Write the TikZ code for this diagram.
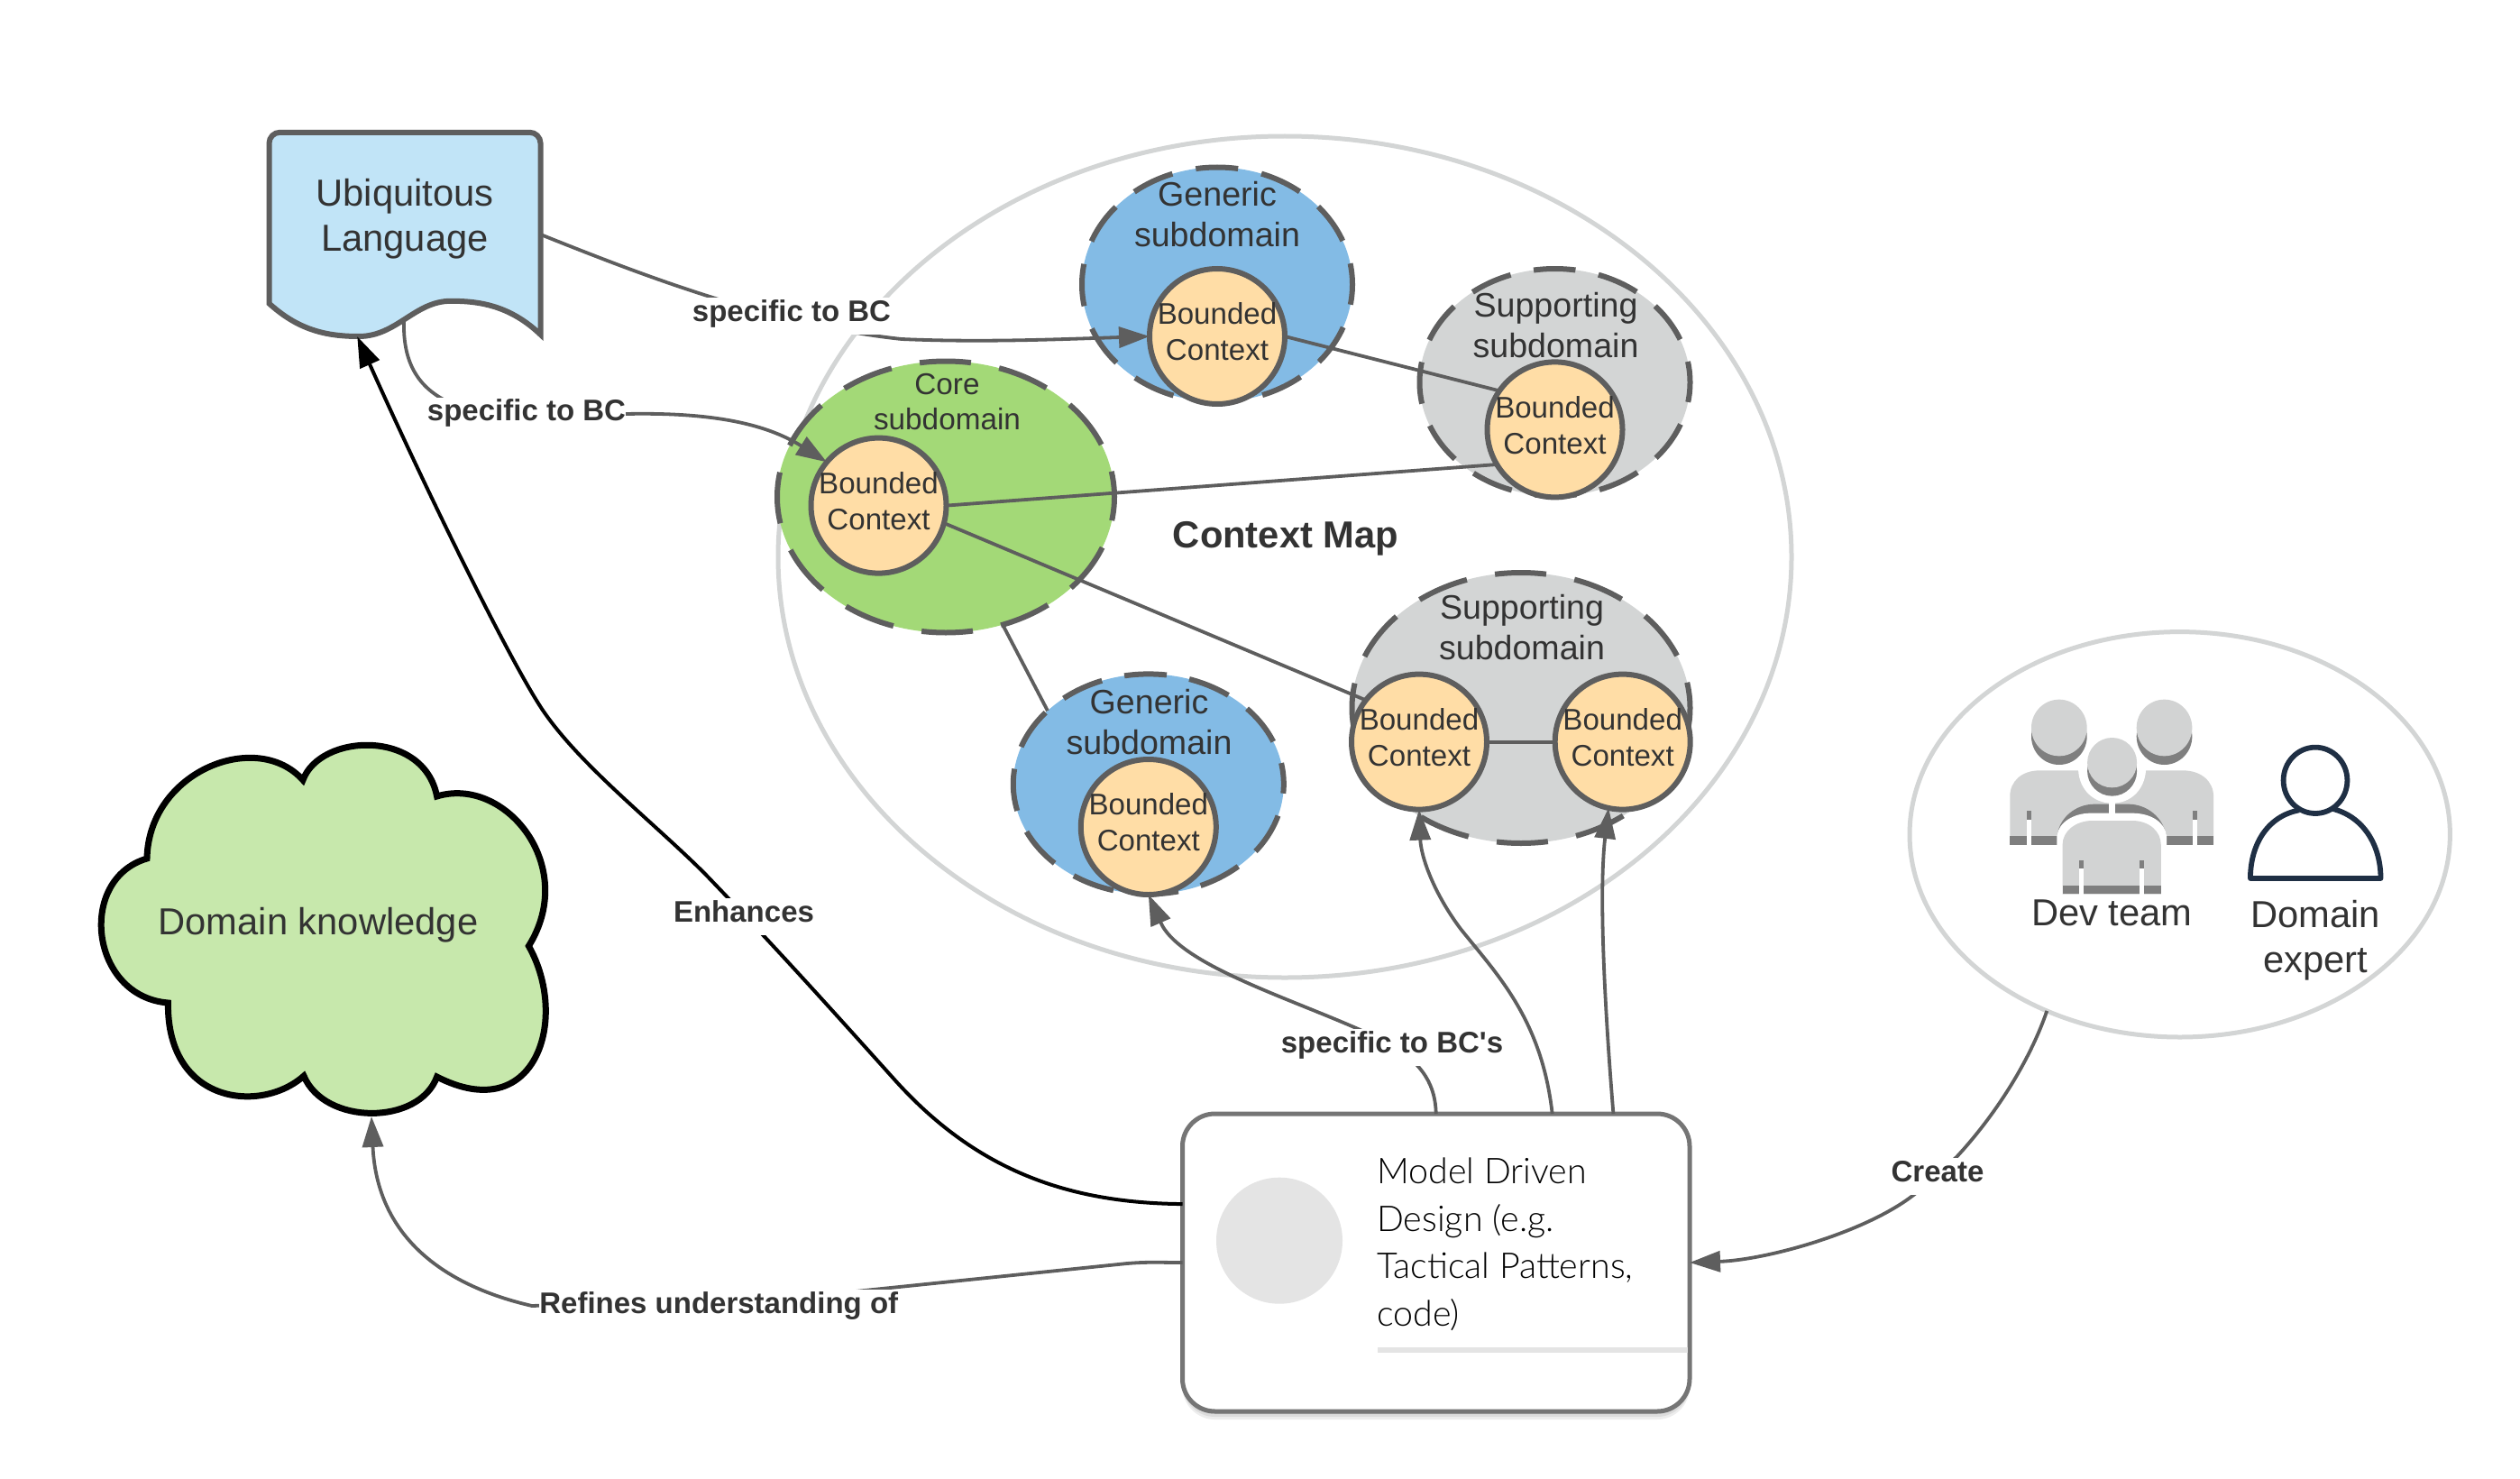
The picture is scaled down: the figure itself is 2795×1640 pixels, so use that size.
\documentclass[tikz,border=0pt]{standalone}
\usepackage{fontspec}
\setmainfont{Liberation Sans}
\newfontfamily\rawfont{Liberation Sans}
\newfontfamily\modelfont{Lato Light}
\usetikzlibrary{arrows.meta,shapes.geometric}
\definecolor{ink}{HTML}{333333}
\definecolor{stroke}{HTML}{5E5E5E}
\definecolor{mapline}{HTML}{D3D5D5}
\definecolor{peach}{HTML}{FFDDA6}
\definecolor{bluef}{HTML}{83BBE5}
\definecolor{coref}{HTML}{A3D977}
\definecolor{greyf}{HTML}{D3D5D5}
\definecolor{docf}{HTML}{C1E4F7}
\definecolor{cloudf}{HTML}{C7E8AC}
\definecolor{boxline}{HTML}{757575}
\definecolor{iconl}{HTML}{D2D3D3}
\definecolor{icond}{HTML}{7F7F7F}
\definecolor{navy}{HTML}{1F2F44}
\tikzset{
  sub/.style={shape=ellipse,draw=stroke,line width=6pt,inner sep=0pt,outer sep=0pt},
  subtxt/.style={text=ink,align=center,inner sep=0pt,font=\fontsize{37.6}{45}\selectfont},
  bc/.style={shape=circle,draw=stroke,fill=peach,line width=6pt,minimum size=150pt,inner sep=0pt,outer sep=0pt},
  bctxt/.style={text=ink,align=center,inner sep=0pt,font=\fontsize{33.1}{40}\selectfont},
  bigtxt/.style={text=ink,align=center,inner sep=0pt,font=\fontsize{41.7}{50}\selectfont},
  conn/.style={draw=stroke,line width=3.8pt},
  arr/.style={conn,-{Triangle[length=34pt,width=23pt,fill=stroke]}},
  linklabel/.style={anchor=base,fill=white,text=ink,inner sep=0pt,text height=26pt,text depth=15pt,font=\rawfont\fontsize{33}{41}\selectfont\bfseries},
  map/.style={shape=ellipse,draw=mapline,line width=5pt,fill=white,inner sep=0pt,outer sep=0pt},
  boxshadow/.style={fill=black,opacity=.07,rounded corners=36pt}
}
\newcommand{\BCnode}[2]{\node[bc] (#1) at (#2) {}; \node[bctxt] (#1t) at ([yshift=5pt]#1.center) {Bounded\\Context};}
\begin{document}
\begin{tikzpicture}[x=1pt,y=-1pt]
\useasboundingbox (0,0) rectangle (2795,1640);
% big ellipses
\node[map,minimum width=1124pt,minimum height=933pt] (mapE) at (1425,617.5) {};
\node[map,minimum width=599.4pt,minimum height=449.4pt] (team) at (2417.7,925.3) {};
% subdomains
\node[sub,fill=bluef,minimum width=300pt,minimum height=260pt,dash pattern=on 47pt off 26.5pt,dash phase=23.5pt] (gen1) at (1350,315.5) {};
\node[sub,fill=greyf,minimum width=300pt,minimum height=252pt,dash pattern=on 46.5pt off 26pt,dash phase=23.25pt] (sup1) at (1724.5,424) {};
\node[sub,fill=coref,minimum width=374pt,minimum height=301pt,dash pattern=on 57pt off 31.8pt,dash phase=28.5pt] (core) at (1049,551) {};
\node[sub,fill=greyf,minimum width=375pt,minimum height=300pt,dash pattern=on 57pt off 31.8pt,dash phase=28.5pt] (sup2) at (1687,785) {};
\node[sub,fill=bluef,minimum width=300pt,minimum height=244pt,dash pattern=on 47pt off 25.5pt,dash phase=23.5pt] (gen2) at (1273.8,869.4) {};
\node[subtxt] (gen1t) at (1350,238) {Generic\\subdomain};
\node[subtxt] (sup1t) at (1725.5,361) {Supporting\\subdomain};
\node[subtxt] (sup2t) at (1688,696) {Supporting\\subdomain};
\node[subtxt] (gen2t) at (1274.5,800.5) {Generic\\subdomain};
\node[bctxt,font=\fontsize{33.3}{39.5}\selectfont] (coret) at (1050.5,445.5) {Core\\subdomain};
% bounded contexts
\BCnode{bcG1}{1350,373}
\BCnode{bcS1}{1724.5,476.4}
\BCnode{bcC}{974.5,560.6}
\BCnode{bcG2}{1273.8,917}
\BCnode{bcL}{1574,822.6}
\BCnode{bcR}{1799.7,822.6}
\node[text=ink,font=\fontsize{41.7}{50}\selectfont\bfseries,anchor=base] (cmap) at (1426,607.6) {Context Map};
% document
\node[minimum width=301pt,minimum height=226.2pt,inner sep=0pt,outer sep=0pt] (doc) at (449,260) {};
\draw[draw=stroke,fill=docf,line width=6pt,line join=miter]
  [rounded corners=12pt] (298.5,336.5) -- (298.5,146.8) -- (599.5,146.8) [sharp corners] -- (599.5,371)
  .. controls (565,338) and (530,333.8) .. (500,333.8)
  .. controls (460,333.8) and (440,373) .. (398,373)
  .. controls (360,373) and (330,365) .. (298.5,336.5) -- cycle;
\node[bigtxt] (doct) at (449,242.5) {Ubiquitous\\Language};
\coordinate (docwave) at (448,357);
% cloud
\draw[draw=black,fill=cloudf,line width=7pt,line join=miter]
  (163,952) .. controls (165,855) and (285,808) .. (336,865)
  .. controls (355,813) and (470,808) .. (484.6,883)
  .. controls (560,860) and (642,960) .. (586.4,1049)
  .. controls (632,1130) and (594,1250) .. (484.6,1194)
  .. controls (465,1248) and (360,1248) .. (337,1193)
  .. controls (290,1235) and (185,1225) .. (186.4,1112)
  .. controls (100,1105) and (85,975) .. (163,952) -- cycle;
\node[bigtxt,anchor=base] (cloudt) at (353,1036) {Domain knowledge};
\coordinate (cloudb) at (412,1238);
% model box
\fill[boxshadow] (1311.5,1238) rectangle (1874,1568);
\fill[boxshadow] (1311.5,1240) rectangle (1874,1571);
\fill[boxshadow] (1311.5,1242) rectangle (1874,1574);
\node[draw=boxline,line width=5pt,fill=white,rounded corners=36pt,minimum width=562.5pt,minimum height=330pt,inner sep=0pt,outer sep=0pt] (box) at (1592.75,1400) {};
\node[shape=circle,fill=black!10.5,minimum size=140pt,inner sep=0pt] (boxdot) at (1419,1375.7) {};
\node[anchor=west,align=left,inner sep=0pt,text=black,font=\modelfont\fontsize{39.4}{52.5}\selectfont] (boxt) at (1527,1380) {Model Driven\\Design (e.g.\\Tactical Patterns,\\code)};
\fill[black!10.5] (1528,1494) rectangle (1871.5,1500);
% connectors
\draw[conn] (bcC.east) -- (bcS1.211);
\draw[conn] (bcC.-15.4) -- (bcL.142);
\draw[conn] (bcG1.east) -- (bcS1.145);
\draw[conn] (core.294.6) -- (gen2.144.8);
\draw[conn] (bcL.east) -- (bcR.west);
\draw[arr] (doc.east) .. controls (700,300) and (850,360) .. (1000,376) .. controls (1090,380) and (1180,376) .. (bcG1.west);
\draw[arr] (docwave) .. controls (447,400) and (462,430) .. (500,447) .. controls (540,462) and (640,460) .. (694,459) .. controls (790,457) and (850,470) .. (bcC.140);
\draw[arr] (box.north) .. controls (1592,1205) and (1580,1180) .. (1540,1157) .. controls (1460,1115) and (1310,1075) .. (bcG2.south);
\draw[arr] (box.52.6) .. controls (1710,1130) and (1660,1080) .. (1620,1030) .. controls (1590,990) and (1576,950) .. (bcL.south);
\draw[arr] (box.40.5) .. controls (1780,1120) and (1773,990) .. (bcR.258.5);
\draw[line width=4pt,draw=black,-{Triangle[length=34pt,width=23pt,fill=black]}] (box.167.2) .. controls (1180,1334) and (1080,1295) .. (992,1197)
  .. controls (930,1128) and (860,1050) .. (782,969)
  .. controls (725,912) and (645,850) .. (603,789)
  .. controls (570,741) and (480,560) .. (doc.245.7);
\draw[arr] (box.west) .. controls (1285,1400) and (1275,1399) .. (1250,1401) -- (900,1437) -- (590,1448) .. controls (490,1425) and (418,1370) .. (cloudb);
\draw[arr] (team.233.2) .. controls (2250,1180) and (2210,1240) .. (2170,1283) -- (2125,1323) .. controls (2072,1366) and (1960,1397) .. (box.east);
% link labels
\node[linklabel] (l1) at (878,356.4) {specific to BC};
\node[linklabel] (l2) at (584,466.7) {specific to BC};
\node[linklabel] (l3) at (825,1022) {Enhances};
\node[linklabel] (l4) at (1544,1167) {specific to BC's};
\node[linklabel] (l5) at (797.3,1456) {Refines understanding of};
\node[linklabel] (l6) at (2149,1310) {Create};
% team icon
\begin{scope}[shift={(2098,680)},xscale=0.41667,yscale=0.33333]
  \fill[icond] (446,410) ellipse [x radius=74,y radius=94];
  \fill[iconl] (446,381) ellipse [x radius=74,y radius=94];
  \fill[icond] (726,410) ellipse [x radius=74,y radius=94];
  \fill[iconl] (726,381) ellipse [x radius=74,y radius=94];
  \fill[iconl] (315,770) -- (315,610) .. controls (315,560) and (345,523) .. (395,523) -- (775,523) .. controls (825,523) and (857,560) .. (857,610) -- (857,770) -- cycle;
  \fill[icond] (315,740) rectangle (857,770);
  \fill[icond] (360,658) rectangle (372,688);
  \fill[white] (360,688) rectangle (372,771);
  \fill[icond] (802,658) rectangle (813,688);
  \fill[white] (802,688) rectangle (813,771);
  \fill[icond] (440,745) .. controls (445,680) and (490,635) .. (540,635) -- (630,635) .. controls (680,635) and (725,680) .. (732,745) -- cycle;
  \fill[white] (440,775) -- (440,740) .. controls (445,695) and (485,665) .. (530,665) -- (640,665) .. controls (690,665) and (728,695) .. (732,740) -- (732,775) -- cycle;
  \fill[white] (497,522) .. controls (500,590) and (540,632) .. (587,632) .. controls (635,632) and (673,590) .. (677,522) -- cycle;
  \fill[white] (578,620) rectangle (594,670);
  \fill[iconl] (455,935) -- (455,770) .. controls (455,725) and (490,690) .. (535,690) -- (640,690) .. controls (685,690) and (717,725) .. (717,770) -- (717,935) -- cycle;
  \fill[icond] (455,905) rectangle (717,933);
  \fill[icond] (500,822) rectangle (511,850);
  \fill[white] (500,850) rectangle (511,936);
  \fill[icond] (661,822) rectangle (672,850);
  \fill[white] (661,850) rectangle (672,936);
  \fill[icond] (587,525) ellipse [x radius=66,y radius=83];
  \fill[iconl] (587,497) ellipse [x radius=66,y radius=83];
  \draw[navy,line width=5.8pt,line join=round,fill=white] (1085,655) .. controls (1000,675) and (955,770) .. (955,882) -- (1302,882) .. controls (1302,770) and (1255,675) .. (1172,650);
  \draw[navy,line width=5.8pt,fill=white] (1128,556) ellipse [x radius=85,y radius=110];
\end{scope}
\node[bigtxt] (devt) at (2342.5,1012) {Dev team};
\node[bigtxt] (expt) at (2568,1043) {Domain\\expert};
\end{tikzpicture}
\end{document}
